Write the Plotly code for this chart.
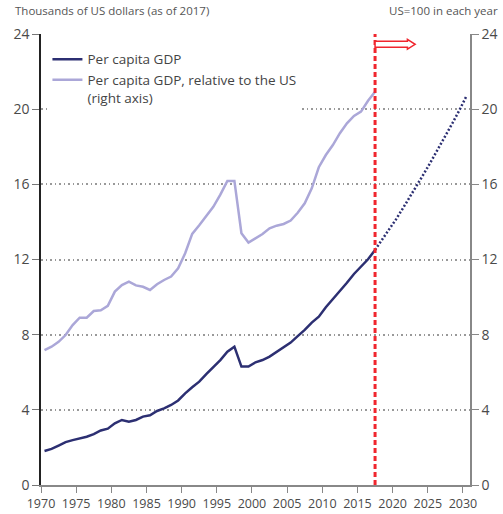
import plotly.graph_objects as go

# Annual series, 1970-2017
years = list(range(1970, 2018))
gdp_per_capita = [
    1.81, 1.92, 2.10, 2.28, 2.39, 2.48, 2.57, 2.71, 2.90, 3.00,
    3.28, 3.46, 3.37, 3.46, 3.64, 3.71, 3.94, 4.08, 4.26, 4.50,
    4.88, 5.20, 5.50, 5.90, 6.28, 6.65, 7.09, 7.36, 6.30, 6.30,
    6.53, 6.65, 6.83, 7.07, 7.34, 7.58, 7.92, 8.25, 8.64, 8.96,
    9.46, 9.88, 10.29, 10.76, 11.23, 11.62, 12.01, 12.51,
]
relative_to_us = [
    7.18, 7.36, 7.62, 7.98, 8.51, 8.90, 8.90, 9.26, 9.30, 9.53,
    10.29, 10.64, 10.82, 10.62, 10.55, 10.38, 10.68, 10.91, 11.09, 11.53,
    12.33, 13.36, 13.82, 14.28, 14.80, 15.45, 16.18, 16.18, 13.40, 12.90,
    13.13, 13.36, 13.66, 13.80, 13.89, 14.07, 14.49, 14.99, 15.79, 16.91,
    17.56, 18.09, 18.72, 19.25, 19.64, 19.87, 20.45, 20.93,
]

# Projection, 2017-2030
proj_years = list(range(2017, 2031))
gdp_projection = [
    12.51, 13.05, 13.60, 14.15, 14.75, 15.35, 15.95,
    16.60, 17.25, 17.90, 18.55, 19.25, 19.95, 20.70,
]

y_ticks = [0, 4, 8, 12, 16, 20, 24]
x_ticks = list(range(1970, 2031, 5))

NAVY = "#2c2f72"
LAVENDER = "#aba7d8"
RED = "#f0262e"
FONT = "Open Sans"

# annual values sit at mid-year
mid = lambda ys: [y + 0.5 for y in ys]
x_hist = mid(years)
x_proj = mid(proj_years)
last_actual = x_hist[-1]

fig = go.Figure()
fig.add_trace(go.Scatter(
    x=x_hist, y=gdp_per_capita, mode="lines", name="Per capita GDP",
    line=dict(color=NAVY, width=2.5),
))
fig.add_trace(go.Scatter(
    x=x_hist, y=relative_to_us, mode="lines", yaxis="y2",
    name="Per capita GDP, relative to the US<br>(right axis)",
    line=dict(color=LAVENDER, width=2.5),
))
fig.add_trace(go.Scatter(
    x=x_proj, y=gdp_projection, mode="lines", showlegend=False,
    line=dict(color=NAVY, width=2.5, dash="2px,2px"),
))

# boundary between actual data and projection
fig.add_shape(type="line", xref="x", yref="paper", x0=last_actual, x1=last_actual,
              y0=0, y1=1, line=dict(color=RED, width=3, dash="5px,3px"), layer="above")

# hollow arrow pointing into the projection period
ax0 = last_actual
ax_head = last_actual + 4.6
ax_tip = last_actual + 5.7
yc, hs, hh = 23.45, 0.16, 0.26
arrow_path = (f"M{ax0},{yc-hs} L{ax_head},{yc-hs} L{ax_head},{yc-hh} L{ax_tip},{yc} "
              f"L{ax_head},{yc+hh} L{ax_head},{yc+hs} L{ax0},{yc+hs} Z")
fig.add_shape(type="path", xref="x", yref="y", path=arrow_path,
              line=dict(color=RED, width=1.5), fillcolor="white", layer="above")

fig.add_annotation(xref="paper", yref="paper", x=-0.066, y=1.03, xanchor="left", yanchor="bottom",
                   text="Thousands of US dollars (as of 2017)", showarrow=False,
                   font=dict(family=FONT, size=11.5, color="#555555"))
fig.add_annotation(xref="paper", yref="paper", x=1.07, y=1.03, xanchor="right", yanchor="bottom",
                   text="US=100 in each year", showarrow=False,
                   font=dict(family=FONT, size=11.5, color="#555555"))

fig.update_layout(
    width=503, height=514,
    margin=dict(l=40.5, r=33, t=33.5, b=28.5, autoexpand=False),
    paper_bgcolor="white", plot_bgcolor="white",
    font=dict(family=FONT, color="#444444"),
    showlegend=True,
    legend=dict(
        x=0.015, y=0.978, xanchor="left", yanchor="top",
        bgcolor="white", font=dict(family=FONT, size=13.5, color="#444444"),
        valign="top", tracegroupgap=4, itemwidth=30,
    ),
    xaxis=dict(
        range=[1970, 2031], tickvals=x_ticks, ticks="outside", ticklen=6,
        tickcolor="#888888", showline=True, linecolor="#888888", linewidth=1.5,
        showgrid=False, zeroline=False, automargin=False,
        tickfont=dict(family=FONT, size=12.5, color="#4a4a4a"),
    ),
    yaxis=dict(
        range=[0, 24], tickvals=y_ticks, ticks="outside", ticklen=7,
        tickcolor="#777777", showline=True, linecolor="#222222", linewidth=1.5,
        showgrid=True, gridcolor="#999999", gridwidth=1.5, griddash="1.5px,3px",
        zeroline=False, automargin=False,
        tickfont=dict(family=FONT, size=14, color="#4a4a4a"),
    ),
    yaxis2=dict(
        range=[0, 24], tickvals=y_ticks, overlaying="y", side="right",
        ticks="outside", ticklen=7, tickcolor="#888888", showline=True,
        linecolor="#888888", linewidth=1.5, showgrid=False, zeroline=False,
        automargin=False,
        tickfont=dict(family=FONT, size=14, color="#4a4a4a"),
    ),
)

fig.write_html("out.html")
